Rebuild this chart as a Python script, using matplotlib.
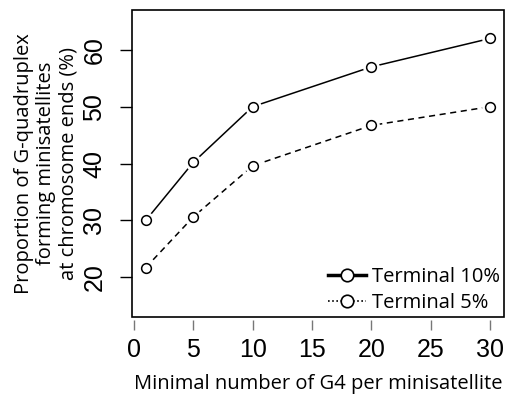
import matplotlib

matplotlib.use("Agg")
import matplotlib.pyplot as plt
from matplotlib.lines import Line2D
from matplotlib.patches import Rectangle

min_g4 = [1, 5, 10, 20, 30]
terminal_10 = [30.0, 40.2, 50.0, 57.0, 62.0]
terminal_5 = [21.7, 30.6, 39.6, 46.7, 50.0]
series_labels = ["Terminal 10%", "Terminal 5%"]
x_ticks = [0, 5, 10, 15, 20, 25, 30]
y_ticks = [20, 30, 40, 50, 60]

label_font = "Open Sans"
tick_font = "Liberation Sans"

fig = plt.figure(figsize=(5.07, 3.97), dpi=100, facecolor="white")
ax = fig.add_axes([0.2604, 0.2015, 0.7337, 0.7733])

for values, style in [(terminal_10, "-"), (terminal_5, (0, (4, 3)))]:
    ax.plot(min_g4, values, color="black", lw=1.1, linestyle=style, zorder=2)
    # white halo so the line stops short of each circle, R type="b" look
    ax.plot(min_g4, values, linestyle="none", marker="o", ms=11,
            mfc="white", mec="white", zorder=3)
    ax.plot(min_g4, values, linestyle="none", marker="o", ms=7,
            mfc="white", mec="black", mew=1.1, zorder=4)

ax.set_xlim(-0.16, 31.16)
ax.set_ylim(13.0, 67.0)

# box drawn separately, x axis ticks hang slightly below it
for side in ["top", "right", "left", "bottom"]:
    ax.spines[side].set_visible(False)
ax.add_patch(Rectangle((0, 0), 1, 1, transform=ax.transAxes, fill=False,
                       lw=1.2, edgecolor="black", clip_on=False, zorder=5))
ax.spines["bottom"].set_position(("outward", 2))

ax.set_xticks(x_ticks)
ax.set_yticks(y_ticks)
ax.tick_params(axis="x", length=7, width=1, color="#777777", pad=6,
               labelsize=18)
ax.tick_params(axis="y", length=8.5, width=1, color="black", pad=10,
               labelsize=18)
for lab in ax.get_xticklabels():
    lab.set_fontfamily(tick_font)
for lab in ax.get_yticklabels():
    lab.set_fontfamily(tick_font)
    lab.set_rotation(90)
    lab.set_va("center")

ax.set_xlabel("Minimal number of G4 per minisatellite", fontsize=14.5,
              fontfamily=label_font, labelpad=9)
ax.set_ylabel("Proportion of G-quadruplex\nforming minisatellites\nat chromosome ends (%)",
              fontsize=14.5, fontfamily=label_font, labelpad=3,
              linespacing=1.15)

handles = [
    Line2D([], [], color="black", lw=2.5, linestyle="-", marker="o", ms=9,
           mfc="white", mec="black", mew=1.2),
    Line2D([], [], color="black", lw=1.2, linestyle=(0, (1, 1.5)), marker="o",
           ms=9, mfc="white", mec="black", mew=1.2),
]
leg = ax.legend(handles, series_labels, loc="lower right", frameon=False,
                bbox_to_anchor=(1.025, -0.03),
                handlelength=1.9, handletextpad=0.3, labelspacing=0.3,
                borderaxespad=0.25, prop={"family": label_font, "size": 14.5})

fig.savefig("out.png", dpi=100)
